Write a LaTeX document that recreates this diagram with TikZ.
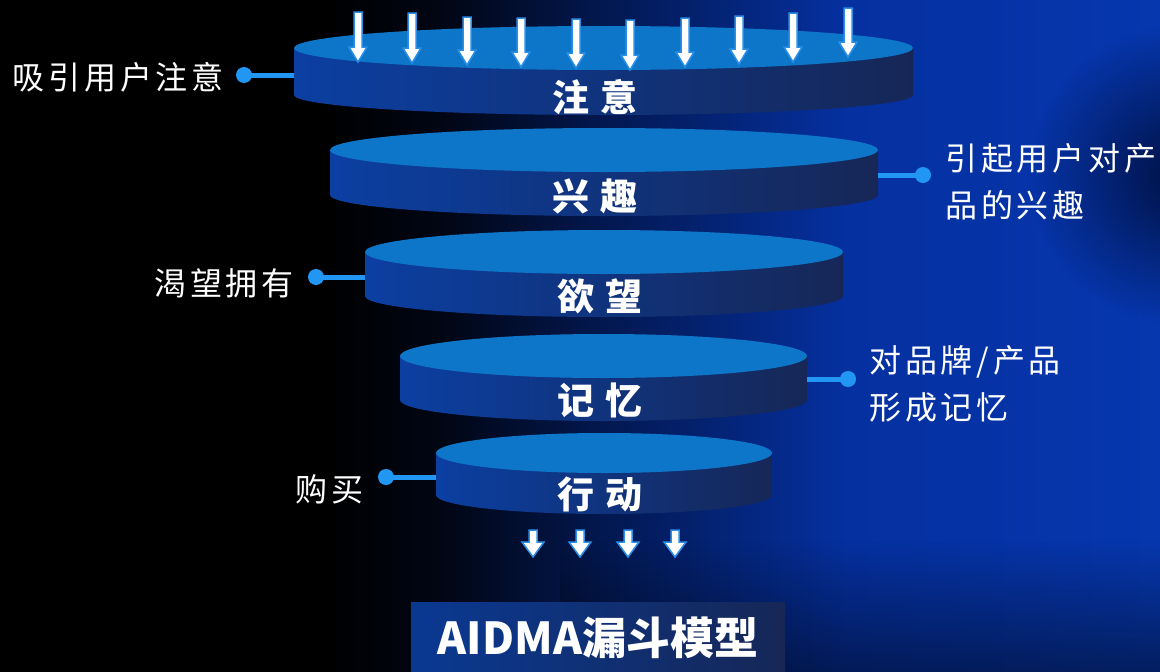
\documentclass[tikz,border=0pt]{standalone}
\usepackage{fontspec}
\usetikzlibrary{fadings}
\newfontfamily\cjk[LetterSpace=12]{Noto Sans CJK SC}
\newfontfamily\cjkb[LetterSpace=28]{Noto Sans CJK SC}
\newfontfamily\cjkt{Noto Sans CJK SC}
\definecolor{topc}{HTML}{0E76C8}
\definecolor{sideL}{HTML}{0B3FA2}
\definecolor{sideM}{HTML}{0A2C80}
\definecolor{sideR}{HTML}{162757}
\definecolor{connc}{HTML}{2196F3}
\definecolor{arredge}{HTML}{2B8FE8}
\definecolor{bgA}{HTML}{010614}
\definecolor{bgB}{HTML}{031850}
\definecolor{bgC}{HTML}{0530A0}
\definecolor{bgD}{HTML}{0637AE}
\definecolor{darkspot}{HTML}{000A30}
\pgfdeclarehorizontalshading{bglin}{100bp}{color(0bp)=(black); color(25bp)=(black); color(39bp)=(black); color(44bp)=(bgA); color(51bp)=(bgB); color(61.5bp)=(bgC); color(75bp)=(bgD); color(100bp)=(bgD)}
\tikzfading[name=softspot, inner color=transparent!0, outer color=transparent!100]
\tikzset{
  sideshade/.style={left color=sideL, middle color=sideM, right color=sideR},
  topface/.style={fill=topc},
  arr/.style={fill=white, draw=arredge, line width=1.5pt, line join=miter},
  conn/.style={draw=connc, line width=5pt},
  dot/.style={circle, fill=connc, inner sep=0pt, minimum size=16pt},
  lbl/.style={text=white, font=\cjk\fontsize{32}{47}\selectfont, inner sep=0pt},
  disclabel/.style={text=white, font=\cjkb\bfseries\fontsize{37}{40}\selectfont, inner sep=0pt},
}
\newcommand\downarr[5]{%
  \filldraw[arr] (#1-#4,#2) -- (#1+#4,#2) -- (#1+#4,#3-15) -- (#1+#5,#3-15) -- (#1,#3) -- (#1-#5,#3-15) -- (#1-#4,#3-15) -- cycle;}
\newcommand\disc[6]{% cx, rx, cy, ry, h, bottom ry
  \shade[sideshade] (#1-#2,#3) rectangle (#1+#2,#3+#5) (#1,#3+#5) ellipse [x radius=#2 pt, y radius=#6 pt];
  \fill[topface] (#1,#3) ellipse [x radius=#2 pt, y radius=#4 pt];}
\begin{document}
\begin{tikzpicture}[x=1pt,y=-1pt]
\useasboundingbox (0,0) rectangle (1160,672);
% background
\begin{scope}
\clip (0,0) rectangle (1160,672);
\shade[shading=bglin] (0,0) rectangle (1160,672);
\fill[darkspot, opacity=0.85, path fading=softspot] (1180,175) circle [radius=150pt];
\fill[black, opacity=0.45, path fading=north] (560,540) rectangle (1160,672);
\end{scope}
% discs
\disc{603.5}{309.5}{48}{22}{47}{20}
\disc{604}{274}{150}{22}{45}{21}
\disc{604}{239}{252}{22}{44}{21}
\disc{603.5}{203.5}{356}{22}{44}{21}
\disc{604}{168}{453}{20}{42}{19}
% top arrows
\downarr{358}{12}{62}{4}{9}
\downarr{412}{13}{63}{4}{9}
\downarr{467}{17}{65}{4}{9}
\downarr{521}{18}{67}{4}{9}
\downarr{576}{19}{68}{4}{9}
\downarr{630}{20}{70}{4}{9}
\downarr{685}{18}{67}{4}{9}
\downarr{739}{16}{64}{4}{9}
\downarr{793}{13}{62}{4}{9}
\downarr{848}{8}{57}{4}{9}
% bottom arrows
\downarr{533}{530}{557}{4}{11}
\downarr{580}{530}{557}{4}{11}
\downarr{628}{530}{557}{4}{11}
\downarr{675}{530}{557}{4}{11}
% disc labels
\node[disclabel] (t1) at (595,97) {注意};
\node[disclabel] (t2) at (595,196) {兴趣};
\node[disclabel] (t3) at (600,296) {欲望};
\node[disclabel] (t4) at (600,400) {记忆};
\node[disclabel] (t5) at (600,494) {行动};
% connectors
\coordinate (e1) at (294,75);
\coordinate (e2) at (878,175);
\coordinate (e3) at (365,277);
\coordinate (e4) at (807,379);
\coordinate (e5) at (436,477);
\node[dot] (d1) at (244,75) {};
\node[dot] (d2) at (923,175) {};
\node[dot] (d3) at (316,277) {};
\node[dot] (d4) at (848,379) {};
\node[dot] (d5) at (386,477) {};
\draw[conn] (d1.center) -- (e1);
\draw[conn] (e2) -- (d2.center);
\draw[conn] (d3.center) -- (e3);
\draw[conn] (e4) -- (d4.center);
\draw[conn] (d5.center) -- (e5);
% side labels
\node[lbl, anchor=east] (l1) at (224,77) {吸引用户注意};
\node[lbl, anchor=west, align=left] (l2) at (945,182) {引起用户对产\\品的兴趣};
\node[lbl, anchor=east] (l3) at (294,283) {渴望拥有};
\node[lbl, anchor=west, align=left] (l4) at (869,384) {对品牌/产品\\形成记忆};
\node[lbl, anchor=east] (l5) at (364,489) {购买};
% title
\shade[left color=sideL!90!black, right color=sideR] (411,602) rectangle (785,672);
\node[text=white, font=\cjkt\bfseries\fontsize{44}{48}\selectfont, inner sep=0pt] (title) at (598,638) {AIDMA漏斗模型};
\end{tikzpicture}
\end{document}
